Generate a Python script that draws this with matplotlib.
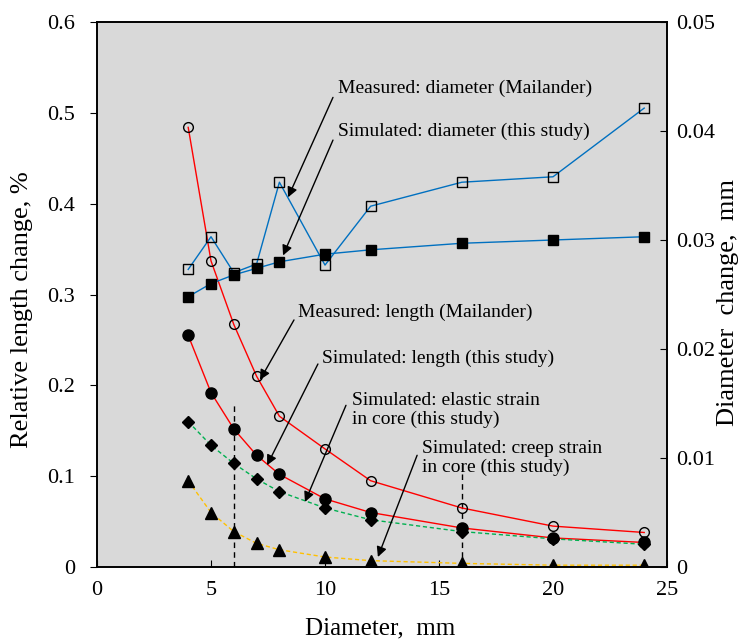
import numpy as np
import matplotlib
matplotlib.use('Agg')
import matplotlib.pyplot as plt
from matplotlib.ticker import FixedLocator, FixedFormatter

plt.rcParams['font.family'] = ['Liberation Serif', 'DejaVu Serif']

diam = [4, 5, 6, 7, 8, 10, 12, 16, 20, 24]
meas_len = [0.484, 0.337, 0.267, 0.210, 0.166, 0.130, 0.095, 0.065, 0.045, 0.038]
sim_len = [0.255, 0.192, 0.152, 0.123, 0.102, 0.075, 0.060, 0.043, 0.032, 0.027]
sim_elastic = [0.160, 0.134, 0.114, 0.097, 0.083, 0.065, 0.052, 0.039, 0.031, 0.025]
sim_creep = [0.095, 0.060, 0.039, 0.026, 0.019, 0.011, 0.007, 0.004, 0.002, 0.002]
meas_dia = [0.0273, 0.0303, 0.0270, 0.0278, 0.0353, 0.0277, 0.0331, 0.0353, 0.0358, 0.0421]
sim_dia = [0.0248, 0.0260, 0.0268, 0.0274, 0.0280, 0.0287, 0.0291, 0.0297, 0.0300, 0.0303]

vlines_x = [6, 16]
vlines_top = [0.18, 0.117]

left_ticks = [0, 0.1, 0.2, 0.3, 0.4, 0.5, 0.6]
left_labels = ['0', '0.1', '0.2', '0.3', '0.4', '0.5', '0.6']
right_ticks = [0, 0.01, 0.02, 0.03, 0.04, 0.05]
right_labels = ['0', '0.01', '0.02', '0.03', '0.04', '0.05']
x_ticks = [0, 5, 10, 15, 20, 25]

# (text, text_x, text_y, tail_x, tail_y, head_x, head_y), y in left-axis units
notes = [
    ('Measured: diameter (Mailander)', 10.57, 0.527, 10.35, 0.517, 8.38, 0.407),
    ('Simulated: diameter (this study)', 10.57, 0.480, 10.35, 0.470, 8.16, 0.343),
    ('Measured: length (Mailander)', 8.82, 0.280, 8.64, 0.272, 7.15, 0.206),
    ('Simulated: length (this study)', 9.87, 0.230, 9.69, 0.2235, 7.46, 0.112),
    ('Simulated: elastic strain\nin core (this study)', 11.18, 0.173, 10.92, 0.178, 9.12, 0.0716),
    ('Simulated: creep strain\nin core (this study)', 14.25, 0.120, 14.04, 0.123, 12.32, 0.011),
]

fig = plt.figure(figsize=(7.43, 6.42), dpi=100)
ax = fig.add_axes([97/743, 75/642, 570/743, 545/642])
ax.set_facecolor('#d9d9d9')
ax2 = ax.twinx()

for vx, vt in zip(vlines_x, vlines_top):
    ax.plot([vx, vx], [0, vt], color='black', ls=(0, (4, 3)), lw=1)

ax.plot(diam, meas_len, color='red', lw=1, marker='o', ms=7, mfc='none', mec='black', mew=1)
ax.plot(diam, sim_len, color='red', lw=1, marker='o', ms=8, mfc='black', mec='black')
ax.plot(diam, sim_elastic, color='#00b050', lw=1, ls=(0, (3, 2)), marker='D', ms=6, mfc='black', mec='black')
ax.plot(diam, sim_creep, color='#ffc000', lw=1, ls=(0, (3, 2)), marker='^', ms=8, mfc='black', mec='black')
ax2.plot(diam, meas_dia, color='#0070c0', lw=1, marker='s', ms=7, mfc='none', mec='black', mew=1)
ax2.plot(diam, sim_dia, color='#0070c0', lw=1, marker='s', ms=7, mfc='black', mec='black')

k = 0.05 / 0.6
for txt, tx, ty, ax_, ay, hx, hy in notes:
    ax2.text(tx, ty * k, txt, fontsize=14, ha='left', va='center', linespacing=1.1, zorder=5)
    ax2.annotate('', xy=(hx, hy * k), xytext=(ax_, ay * k),
                 arrowprops=dict(arrowstyle='-|>', color='black', lw=1, shrinkA=0, shrinkB=0,
                                 mutation_scale=15))

ax.set_xlim(0, 25)
ax.set_ylim(0, 0.6)
ax2.set_ylim(0, 0.05)
ax.xaxis.set_major_locator(FixedLocator(x_ticks))
ax.yaxis.set_major_locator(FixedLocator(left_ticks))
ax.yaxis.set_major_formatter(FixedFormatter(left_labels))
ax2.yaxis.set_major_locator(FixedLocator(right_ticks))
ax2.yaxis.set_major_formatter(FixedFormatter(right_labels))

ax.tick_params(axis='x', direction='in', length=5, labelsize=16, pad=10)
ax.tick_params(axis='y', direction='out', length=5, labelsize=16, pad=11)
ax2.tick_params(axis='y', direction='in', length=5, labelsize=16, pad=6.5)
for a in (ax, ax2):
    for s in a.spines.values():
        s.set_linewidth(1.2)

ax.set_xlabel('Diameter,  mm', fontsize=18)
ax.set_ylabel('Relative length change, %', fontsize=19)
ax2.set_ylabel('Diameter  change,  mm', fontsize=19)
ax.xaxis.set_label_coords(0.496, -0.092)
ax.yaxis.set_label_coords(-0.112, 0.473)
ax2.yaxis.set_label_coords(1.088, 0.486)

fig.savefig('out.png', dpi=100)
